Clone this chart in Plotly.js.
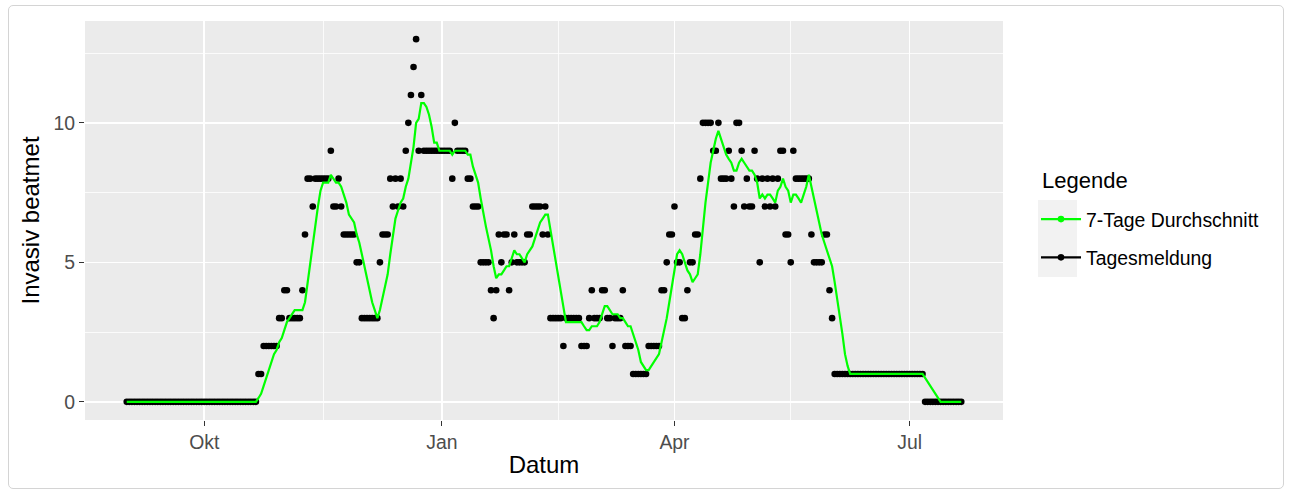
<!DOCTYPE html>
<html>
<head>
<meta charset="utf-8">
<script src="https://cdn.plot.ly/plotly-3.0.1.min.js"></script>
<style>
  html, body { margin: 0; padding: 0; background: #ffffff; }
  #frame { position: absolute; left: 8px; top: 5px; width: 1276px; height: 484px;
           border: 1px solid #d4d4d4; border-radius: 5px; box-sizing: border-box; }
  #chart { position: absolute; left: 0; top: 0; width: 1293px; height: 493px; }
</style>
</head>
<body>
<div id="frame"></div>
<div id="chart"></div>
<script>
// ---- data (one value per day, starting 2020-09-01) ----
const startDate = '2020-09-01';

const tagesmeldung = [
  0,0,0,0,0,0,0,0,0,0, 0,0,0,0,0,0,0,0,0,0, 0,0,0,0,0,0,0,0,0,0,
  0,0,0,0,0,0,0,0,0,0, 0,0,0,0,0,0,0,0,0,0, 0,
  1,1,2,2,2,2,2,2,3,3,
  4,4,3,3,3,3,3,4,6,8,
  8,7,8,8,8,8,8,8,9,7,
  7,8,7,6,6,6,6,6,5,5,
  3,3,3,3,3,3,3,5,6,6,
  6,8,7,8,7,8,7,9,10,11,
  12,13,9,11,9,9,9,9,9,9,
  9,9,9,9,9,8,10,9,9,9,
  9,8,8,7,7,7,5,5,5,5,
  4,3,4,6,5,6,6,4,5,6,
  5,5,5,5,6,6,7,7,7,7,
  6,7,6,3,3,3,3,3,2,3,
  3,3,3,3,3,2,2,2,3,4,
  3,3,3,4,4,3,3,2,3,3,
  3,4,2,2,2,1,1,1,1,1,
  1,2,2,2,2,2,4,4,5,6,
  6,7,5,5,3,3,4,5,5,6,
  6,8,10,10,10,10,9,9,10,8,
  8,8,9,8,7,10,10,9,7,8,
  7,7,9,8,5,8,7,8,7,8,
  7,8,9,9,6,6,5,9,8,8,
  8,8,8,8,6,5,5,5,5,6,
  6,4,3,1,1,1,1,1,1,1,
  1,1,1,1,1,1,1,1,1,1,
  1,1,1,1,1,1,1,1,1,1,
  1,1,1,1,1,1,1,1,
  0,0,0,0,0,0,0,0,0,0,0,0,0,0,0
];

const durchschnitt7 = [
  0,0,0,0,0,0,0,0,0,0, 0,0,0,0,0,0,0,0,0,0, 0,0,0,0,0,0,0,0,0,0,
  0,0,0,0,0,0,0,0,0,0, 0,0,0,0,0,0,0,0,0,0, 0,
  0.14,0.29,0.57,0.86,1.14,1.43,1.71,1.86,2.14,2.29,
  2.57,2.86,3.00,3.14,3.29,3.29,3.29,3.29,3.57,4.29,
  5.00,5.57,6.29,7.00,7.57,7.86,7.86,7.86,8.14,8.00,
  7.86,7.86,7.71,7.43,7.14,6.71,6.57,6.43,6.00,5.71,
  5.29,4.86,4.43,4.00,3.57,3.29,3.00,3.29,3.71,4.14,
  4.57,5.29,5.86,6.57,6.86,7.14,7.29,7.71,8.00,8.57,
  9.14,10.00,10.14,10.71,10.71,10.57,10.29,9.86,9.29,9.29,
  9.00,9.00,9.00,9.00,9.00,8.86,9.00,9.00,9.00,9.00,
  9.00,8.86,8.86,8.43,8.14,7.86,7.29,6.71,6.29,5.86,
  5.43,4.86,4.43,4.57,4.57,4.71,4.86,4.86,5.14,5.43,
  5.29,5.29,5.14,5.00,5.29,5.43,5.57,5.86,6.14,6.43,
  6.57,6.71,6.71,6.14,5.57,5.00,4.43,4.00,3.29,2.86,
  2.86,2.86,2.86,2.86,2.86,2.86,2.71,2.57,2.57,2.71,
  2.71,2.71,2.86,3.14,3.43,3.43,3.29,3.14,3.14,3.14,
  3.00,3.00,2.86,2.71,2.71,2.43,2.14,1.86,1.43,1.29,
  1.14,1.14,1.29,1.43,1.57,1.71,2.14,2.57,3.00,3.57,
  4.14,4.86,5.29,5.43,5.29,5.00,4.71,4.57,4.29,4.43,
  4.57,5.29,6.29,7.14,7.86,8.57,9.00,9.43,9.71,9.43,
  9.14,8.86,8.71,8.57,8.29,8.29,8.57,8.71,8.57,8.43,
  8.29,8.29,8.14,7.86,7.29,7.43,7.29,7.43,7.43,7.29,
  7.14,7.57,7.71,8.00,7.71,7.57,7.14,7.43,7.43,7.29,
  7.14,7.43,7.71,8.14,7.71,7.29,6.86,6.43,6.00,5.71,
  5.43,5.14,4.86,4.29,3.71,3.14,2.43,1.71,1.29,1.00,
  1,1,1,1,1,1,1,1,1,1,
  1,1,1,1,1,1,1,1,1,1,
  1,1,1,1,1,1,1,1,
  0.86,0.71,0.57,0.43,0.29,0.14,0,0,0,0,0,0,0,0,0
];

const xTickVals = ['2020-10-01', '2021-01-01', '2021-04-01', '2021-07-01'];
const xTickText = ['Okt', 'Jan', 'Apr', 'Jul'];
const xMinorVals = ['2020-08-16', '2020-11-16', '2021-02-15', '2021-05-16'];
const yTickVals = [0, 5, 10];
const yTickText = ['0', '5', '10'];
const yMinorVals = [2.5, 7.5, 12.5];

// dates for each daily value
const dates = [];
(function () {
  const p = startDate.split('-').map(Number);
  const t0 = Date.UTC(p[0], p[1] - 1, p[2]);
  for (let i = 0; i < tagesmeldung.length; i++) {
    dates.push(new Date(t0 + i * 86400000).toISOString().slice(0, 10));
  }
})();

const GREEN = '#00FF00';
const FONT = 'Liberation Sans, Arial, Helvetica, sans-serif';
const SMALL = 19.4, AXTITLE = 24, LEGTITLE = 22;

const traces = [
  { type: 'scatter', mode: 'markers', x: dates, y: tagesmeldung,
    marker: { color: '#000000', size: 6.6 }, showlegend: false, hoverinfo: 'skip' },
  { type: 'scatter', mode: 'lines', x: dates, y: durchschnitt7,
    line: { color: GREEN, width: 2.2 }, showlegend: false, hoverinfo: 'skip' },
  { type: 'scatter', mode: 'lines+markers', x: [null], y: [null], name: '7-Tage Durchschnitt',
    line: { color: GREEN, width: 2.2 }, marker: { color: GREEN, size: 6.6 }, legendgroup: 'a' },
  { type: 'scatter', mode: 'lines+markers', x: [null], y: [null], name: 'Tagesmeldung',
    line: { color: '#000000', width: 2.2 }, marker: { color: '#000000', size: 6.6 }, legendgroup: 'b' }
];

const L = 85, R = 1003, T = 21, B = 420;
const px2x = v => (v - L) / (R - L);
const px2y = v => (B - v) / (B - T);

const layout = {
  width: 1293, height: 493,
  margin: { l: L, r: 1293 - R, t: T, b: 493 - B, pad: 0 },
  paper_bgcolor: 'rgba(0,0,0,0)',
  plot_bgcolor: '#EBEBEB',
  font: { family: FONT, color: '#000000' },
  showlegend: true,
  xaxis: {
    type: 'date',
    range: ['2020-08-15 20:24:00', '2021-08-06 03:36:00'],
    tickmode: 'array', tickvals: xTickVals, ticktext: xTickText,
    showgrid: true, gridcolor: '#FFFFFF', gridwidth: 1.6,
    zeroline: false, showline: false,
    ticks: 'outside', ticklen: 5, tickwidth: 1.1, tickcolor: '#333333',
    tickfont: { size: SMALL, color: '#4D4D4D', family: FONT },
    minor: { tickmode: 'array', tickvals: xMinorVals, showgrid: true,
             gridcolor: '#FFFFFF', gridwidth: 0.8, ticks: '' },
    title: { text: 'Datum', font: { size: AXTITLE, color: '#000000', family: FONT }, standoff: 3 },
    automargin: false, fixedrange: true
  },
  yaxis: {
    range: [-0.65, 13.65],
    tickmode: 'array', tickvals: yTickVals, ticktext: yTickText,
    showgrid: true, gridcolor: '#FFFFFF', gridwidth: 1.6,
    zeroline: false, showline: false,
    ticks: 'outside', ticklen: 5, tickwidth: 1.1, tickcolor: '#333333',
    tickfont: { size: SMALL, color: '#4D4D4D', family: FONT },
    minor: { tickmode: 'array', tickvals: yMinorVals, showgrid: true,
             gridcolor: '#FFFFFF', gridwidth: 0.8, ticks: '' },
    title: { text: 'Invasiv beatmet', font: { size: AXTITLE, color: '#000000', family: FONT }, standoff: 7 },
    automargin: false, fixedrange: true
  },
  legend: {
    x: px2x(1036), xanchor: 'left',
    y: px2y(200), yanchor: 'top',
    bgcolor: 'rgba(0,0,0,0)', borderwidth: 0,
    font: { size: SMALL, color: '#000000', family: FONT },
    traceorder: 'grouped', tracegroupgap: 10, itemwidth: 40
  },
  annotations: [
    { text: 'Legende', xref: 'paper', yref: 'paper', x: px2x(1040), y: px2y(180),
      xanchor: 'left', yanchor: 'middle', showarrow: false,
      font: { size: LEGTITLE, color: '#000000', family: FONT } }
  ],
  shapes: [
    { type: 'rect', xref: 'paper', yref: 'paper', layer: 'below',
      x0: px2x(1038), x1: px2x(1077), y0: px2y(200), y1: px2y(277),
      fillcolor: '#F2F2F2', line: { width: 0 } }
  ]
};

Plotly.newPlot('chart', traces, layout, { displayModeBar: false, staticPlot: true });
</script>
</body>
</html>
